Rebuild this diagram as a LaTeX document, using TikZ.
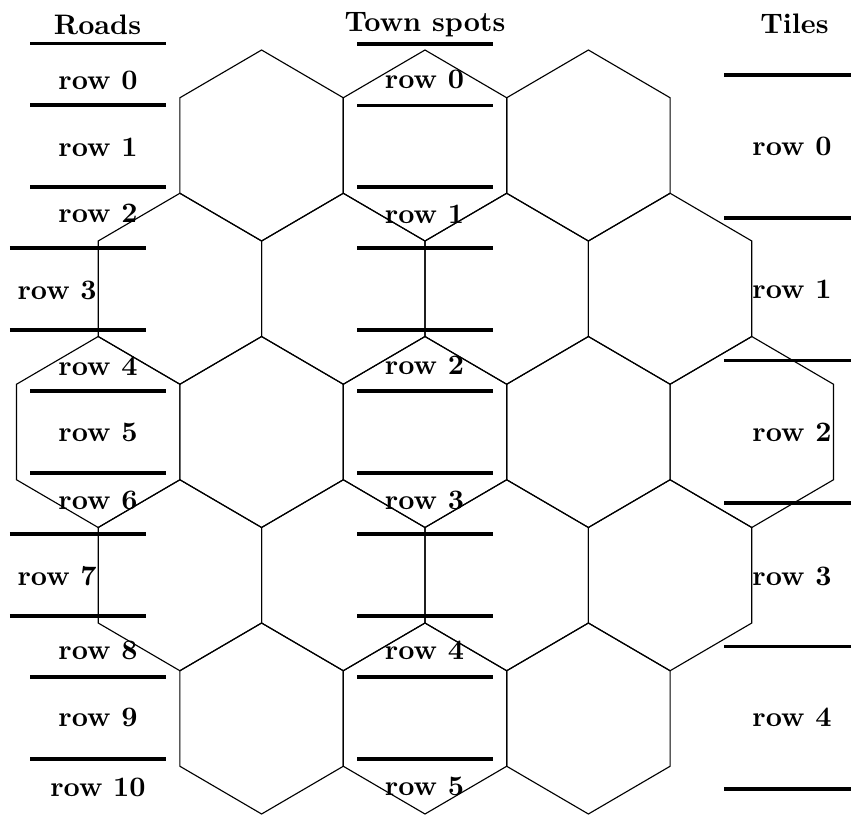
\documentclass[tikz,border=0pt]{standalone}
\begin{document}
\begin{tikzpicture}[x=0.3546pt,y=-0.3546pt,
  hexline/.style={line width=0.4pt,line join=miter},
  rule/.style={line width=1.1pt},
  lbl/.style={font=\bfseries,anchor=base,inner sep=0pt},
  lblw/.style={font=\bfseries,anchor=base west,inner sep=0pt}]
\useasboundingbox (0,0) rectangle (851,818);
% hex grid
\foreach \r/\n in {0/3,1/4,2/5,3/4,4/3}{
  \foreach \i in {1,...,\n}{
    \pgfmathsetmacro\cx{425-(\n-1)*81.7+(\i-1)*163.4}
    \pgfmathsetmacro\cy{145.5+143.25*\r}
    \draw[hexline] (\cx,\cy-95.5) -- ++(81.7,47.75) -- ++(0,95.5) -- ++(-81.7,47.75)
      -- ++(-81.7,-47.75) -- ++(0,-95.5) -- cycle;
  }
}
% headers
\node[lbl] (hroads) at (97.5,34.7) {Roads};
\node[lbl] (htown) at (425,31.7) {Town spots};
\node[lbl] (htiles) at (794.5,33.3) {Tiles};
% Roads rules
\foreach \y in {43.3,105,187,391,473,677,759}{\draw[rule] (30,\y) -- (166,\y);}
\foreach \y in {248,330,534,616}{\draw[rule] (10,\y) -- (146,\y);}
% Roads labels
\node[lbl] (r0) at (98,89.3) {row 0};
\node[lbl] (r1) at (98,156.7) {row 1};
\node[lbl] (r2) at (98,222.7) {row 2};
\node[lblw] (r3) at (17,299.3) {row 3};
\node[lbl] (r4) at (98,375) {row 4};
\node[lbl] (r5) at (98,441.7) {row 5};
\node[lbl] (r6) at (98,509.3) {row 6};
\node[lblw] (r7) at (17,585) {row 7};
\node[lbl] (r8) at (98,659.3) {row 8};
\node[lbl] (r9) at (98,726.7) {row 9};
\node[lbl] (r10) at (98,796) {row 10};
% Town spots rules
\foreach \y in {44,105.7,187,248,330,391,473,534,616,677,759}{\draw[rule] (357,\y) -- (493,\y);}
% Town spots labels
\node[lbl] (t0) at (424.5,88.3) {row 0};
\node[lbl] (t1) at (424.5,223.3) {row 1};
\node[lbl] (t2) at (424.5,374) {row 2};
\node[lbl] (t3) at (424.5,509.3) {row 3};
\node[lbl] (t4) at (424.5,659.3) {row 4};
\node[lbl] (t5) at (424.5,795) {row 5};
% Tiles rules
\foreach \y in {75,218,360.7,503,646.7,789}{\draw[rule] (724,\y) -- (851,\y);}
% Tiles labels
\node[lbl] (ti0) at (792,155) {row 0};
\node[lbl] (ti1) at (792,298) {row 1};
\node[lbl] (ti2) at (792,441.5) {row 2};
\node[lbl] (ti3) at (792,585) {row 3};
\node[lbl] (ti4) at (792,726.7) {row 4};
\end{tikzpicture}
\end{document}
